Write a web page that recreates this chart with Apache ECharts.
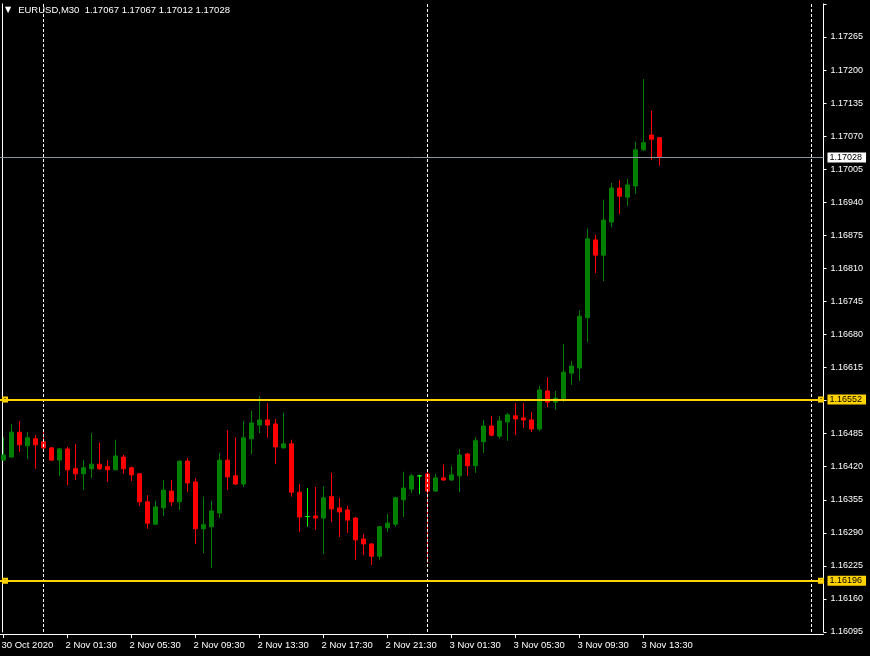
<!DOCTYPE html>
<html><head><meta charset="utf-8">
<script src="https://cdn.jsdelivr.net/npm/echarts@6/dist/echarts.min.js"></script>
<style>html,body{margin:0;padding:0;background:#000}#c{width:870px;height:656px}</style>
</head><body><div id="c"></div>
<script>
const symbolName = "EURUSD,M30";
const open = [1.16433,1.16439,1.16488,1.16461,1.16475,1.16469,1.16457,1.16433,1.16455,1.16416,
1.16406,1.16416,1.16425,1.16420,1.16414,1.16439,1.16418,1.16406,1.16351,1.16307,
1.16339,1.16372,1.16351,1.16431,1.16390,1.16298,1.16302,1.16329,1.16433,1.16402,
1.16386,1.16475,1.16502,1.16512,1.16504,1.16457,1.16465,1.16370,1.16322,1.16323,
1.16319,1.16361,1.16339,1.16335,1.16319,1.16278,1.16268,1.16244,1.16300,1.16307,
1.16355,1.16376,1.16402,1.16406,1.16372,1.16398,1.16394,1.16402,1.16445,1.16422,
1.16469,1.16500,1.16480,1.16508,1.16520,1.16516,1.16512,1.16494,1.16569,1.16547,
1.16551,1.16604,1.16614,1.16713,1.16866,1.16836,1.16901,1.16968,1.16950,1.16972,
1.17043,1.17072,1.17067];
const high = [1.16478,1.16504,1.16510,1.16488,1.16482,1.16494,1.16459,1.16457,1.16459,1.16465,
1.16433,1.16486,1.16467,1.16433,1.16473,1.16443,1.16420,1.16407,1.16364,1.16353,
1.16394,1.16394,1.16432,1.16437,1.16398,1.16361,1.16353,1.16447,1.16492,1.16478,
1.16510,1.16530,1.16559,1.16545,1.16514,1.16526,1.16473,1.16386,1.16378,1.16380,
1.16382,1.16408,1.16359,1.16343,1.16321,1.16288,1.16270,1.16303,1.16327,1.16361,
1.16410,1.16406,1.16404,1.16410,1.16406,1.16424,1.16422,1.16455,1.16447,1.16478,
1.16512,1.16520,1.16520,1.16526,1.16545,1.16545,1.16528,1.16579,1.16596,1.16569,
1.16661,1.16628,1.16728,1.16888,1.16876,1.16945,1.16978,1.16984,1.16986,1.17059,
1.17182,1.17120,1.17067];
const low = [1.16432,1.16438,1.16449,1.16435,1.16416,1.16455,1.16431,1.16402,1.16384,1.16394,
1.16374,1.16398,1.16414,1.16390,1.16413,1.16406,1.16392,1.16343,1.16298,1.16306,
1.16323,1.16343,1.16335,1.16370,1.16268,1.16250,1.16221,1.16319,1.16374,1.16384,
1.16380,1.16445,1.16486,1.16477,1.16425,1.16456,1.16361,1.16292,1.16302,1.16296,
1.16248,1.16311,1.16282,1.16290,1.16237,1.16246,1.16227,1.16237,1.16292,1.16302,
1.16321,1.16368,1.16366,1.16231,1.16371,1.16392,1.16392,1.16370,1.16402,1.16408,
1.16447,1.16480,1.16475,1.16471,1.16482,1.16496,1.16488,1.16490,1.16537,1.16532,
1.16547,1.16581,1.16589,1.16665,1.16801,1.16785,1.16891,1.16917,1.16933,1.16956,
1.17041,1.17023,1.17012];
const close = [1.16443,1.16488,1.16463,1.16477,1.16463,1.16457,1.16433,1.16455,1.16414,1.16406,
1.16418,1.16425,1.16416,1.16414,1.16441,1.16416,1.16404,1.16351,1.16309,1.16341,
1.16374,1.16351,1.16431,1.16388,1.16298,1.16306,1.16333,1.16433,1.16400,1.16386,
1.16477,1.16506,1.16512,1.16502,1.16459,1.16465,1.16370,1.16321,1.16322,1.16319,
1.16359,1.16337,1.16331,1.16315,1.16276,1.16268,1.16244,1.16302,1.16309,1.16359,
1.16378,1.16402,1.16402,1.16372,1.16398,1.16394,1.16404,1.16443,1.16422,1.16471,
1.16500,1.16482,1.16510,1.16522,1.16514,1.16512,1.16494,1.16571,1.16547,1.16555,
1.16606,1.16618,1.16716,1.16868,1.16836,1.16905,1.16968,1.16952,1.16974,1.17043,
1.17057,1.17064,1.17028];
const tickLabels = ["30 Oct 2020","2 Nov 01:30","2 Nov 05:30","2 Nov 09:30","2 Nov 13:30","2 Nov 17:30","2 Nov 21:30","3 Nov 01:30","3 Nov 05:30","3 Nov 09:30","3 Nov 13:30"];
const hLines = [1.16552, 1.16196];
const bidPrice = 1.17028;
const separatorBars = [5, 53, 101];
const yMin = 1.16095, yMax = 1.17330, yStep = 0.00065;
const totalSlots = 103;

function pad(n){ return (n < 10 ? '0' : '') + n; }
const categories = [];
for (let i = 0; i < totalSlots; i++) {
  let m, day;
  if (i < 5) { m = 1290 + 30 * i; day = '30 Oct'; }
  else { m = (i - 5) * 30; day = (2 + Math.floor(m / 1440)) + ' Nov'; m = m % 1440; }
  categories.push(day + ' ' + pad(Math.floor(m / 60)) + ':' + pad(m % 60));
}
const candles = open.map((o, i) => [o, close[i], low[i], high[i]]);
const FONT = "'Liberation Sans', Arial, sans-serif";
const isTick = (i) => i % 8 === 0 && i / 8 < tickLabels.length;
const GOLD = '#FFD200';
const squarePath = 'path://M0,0L6,0L6,6L0,6Z M2,2L2,4L4,4L4,2Z';
const anchorPoints = [];
hLines.forEach(v => { anchorPoints.push({value: [0, v], symbolOffset: [1.5, 0]}); anchorPoints.push({value: [totalSlots - 1, v], symbolOffset: [1.5, 0]}); });

function goldLine(v){
  return {
    yAxis: v, symbol: 'none',
    lineStyle: {color: GOLD, width: 2, type: 'solid'},
    label: {show: true, position: 'end', distance: 4, formatter: (p) => p.value.toFixed(5),
      backgroundColor: GOLD, color: '#000', padding: [1, 4, 0, 2], fontFamily: FONT, fontSize: 9}
  };
}
function sepLine(i){
  return {xAxis: categories[i], symbol: 'none', lineStyle: {color: '#ffffff', width: 1, type: [3, 2]}, label: {show: false}};
}

const chart = echarts.init(document.getElementById('c'), null, {renderer: 'canvas'});
chart.setOption({
  backgroundColor: '#000',
  animation: false,
  title: {
    text: '{tri|▼}' + symbolName + '  ' + [open[82], high[82], low[82], close[82]].map(v => v.toFixed(5)).join(' '),
    left: 5, top: 5, padding: 0,
    textStyle: {color: '#fff', fontFamily: FONT, fontSize: 9.5, fontWeight: 'normal',
      rich: {tri: {fontSize: 8, color: '#fff', padding: [0, 7, 0, 0], fontFamily: 'DejaVu Sans'}}}
  },
  grid: {left: -0.5, right: 46.5, top: 3.9, bottom: 24, containLabel: false, outerBoundsMode: 'none'},
  xAxis: {
    type: 'category', data: categories, boundaryGap: true, offset: 2,
    axisLine: {lineStyle: {color: '#fff', width: 1}},
    axisTick: {show: true, alignWithLabel: true, interval: (i) => isTick(i), length: 4, lineStyle: {color: '#fff', width: 1}},
    axisLabel: {interval: (i) => isTick(i), formatter: (v, i) => isTick(i) ? tickLabels[i / 8] : '',
      color: '#fff', fontFamily: FONT, fontSize: 9.5, align: 'left', margin: 6, padding: [0, 0, 0, -2]},
    splitLine: {show: false}
  },
  yAxis: [{
    type: 'value', position: 'right', min: yMin, max: yMax, interval: yStep,
    axisLine: {show: true, lineStyle: {color: '#fff'}},
    axisTick: {show: true, length: 3, lineStyle: {color: '#fff'}},
    axisLabel: {color: '#fff', fontFamily: FONT, fontSize: 9, margin: 7,
      formatter: (v) => v > 1.1730 ? '' : v.toFixed(5)},
    splitLine: {show: false}
  }, {
    type: 'value', position: 'left', min: yMin, max: yMax, offset: -2.5,
    axisLine: {show: true, lineStyle: {color: '#fff'}},
    axisTick: {show: false}, axisLabel: {show: false}, splitLine: {show: false}
  }],
  series: [{
    type: 'candlestick', data: candles, barWidth: 4,
    itemStyle: {color: '#008000', color0: '#ff0000', borderColor: '#008000', borderColor0: '#ff0000',
      borderColorDoji: '#00ff00', borderWidth: 1},
    markLine: {
      silent: true, animation: false, symbol: 'none', precision: 5, z: 10,
      data: [
        ...separatorBars.map(sepLine),
        {yAxis: bidPrice, symbol: 'none', lineStyle: {color: '#8a949e', width: 1, type: 'solid'},
          label: {show: true, position: 'end', distance: 4, formatter: (p) => p.value.toFixed(5),
            backgroundColor: '#fff', color: '#000', padding: [1, 4, 0, 2], fontFamily: FONT, fontSize: 9}},
        ...hLines.map(goldLine)
      ]
    }
  }, {
    type: 'scatter', data: anchorPoints, symbol: squarePath, symbolSize: 6, clip: false, silent: true, z: 20,
    itemStyle: {color: GOLD, opacity: 1}
  }]
});
</script></body></html>
